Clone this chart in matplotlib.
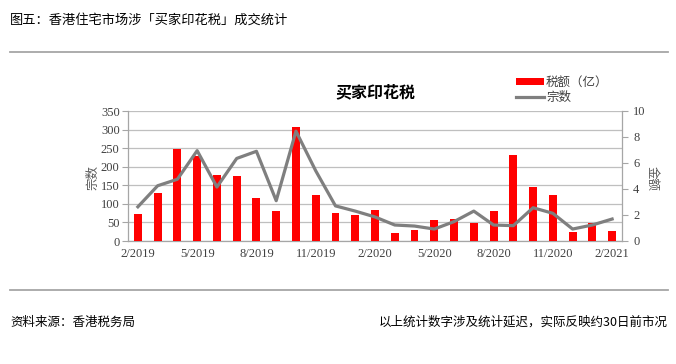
import matplotlib
matplotlib.use("Agg")
import matplotlib.pyplot as plt
from matplotlib.lines import Line2D
from matplotlib.patches import Patch
import numpy as np

plt.rcParams['font.family'] = ['Noto Sans CJK SC', 'DejaVu Sans']

months = ["2/2019", "3/2019", "4/2019", "5/2019", "6/2019", "7/2019", "8/2019", "9/2019",
          "10/2019", "11/2019", "12/2019", "1/2020", "2/2020", "3/2020", "4/2020", "5/2020",
          "6/2020", "7/2020", "8/2020", "9/2020", "10/2020", "11/2020", "12/2020", "1/2021", "2/2021"]
bar_values = [74, 130, 248, 228, 179, 175, 116, 80, 308, 125, 76, 71,
              83, 22, 30, 57, 59, 49, 81, 231, 145, 125, 24, 49, 28]
line_values = [2.63, 4.25, 4.75, 6.95, 4.15, 6.35, 6.9, 3.1, 8.45, 5.4, 2.7, 2.3,
               1.85, 1.23, 1.15, 0.92, 1.49, 2.3, 1.23, 1.18, 2.56, 2.13, 0.92, 1.23, 1.69]
tick_every = 3

title_main = "图五：香港住宅市场涉「买家印花税」成交统计"
chart_title = "买家印花税"
legend_bar = "税额（亿）"
legend_line = "宗数"
left_label = "宗数"
right_label = "金额"
footer_left = "资料来源：香港税务局"
footer_right = "以上统计数字涉及统计延迟，实际反映约30日前市况"

W, H = 676, 364
fig = plt.figure(figsize=(W / 100, H / 100), dpi=100)

def fx(px):
    return px / W

def fy(py):
    return 1 - py / H

ax = fig.add_axes([fx(128), fy(241), fx(622) - fx(128), fy(111) - fy(241)])
x = np.arange(len(months))
ax.bar(x, bar_values, width=0.4, color="#ff0000", zorder=3)
ax.set_xlim(-0.5, len(months) - 0.5)
ax.set_ylim(0, 350)
ax.set_yticks(np.arange(0, 351, 50))
ax.grid(axis='y', color="#bfbfbf", linewidth=0.9, zorder=0)
ax.set_axisbelow(True)
ax.set_xticks(x[::tick_every])
ax.set_xticklabels(months[::tick_every])
for s in ["top", "right"]:
    ax.spines[s].set_visible(False)
for s in ["left", "bottom"]:
    ax.spines[s].set_color("#a6a6a6")
    ax.spines[s].set_linewidth(0.9)
ax.tick_params(axis='y', length=4, color="#a6a6a6", labelsize=9, pad=2, labelcolor="#404040")
ax.tick_params(axis='x', length=0, labelsize=9, pad=5, labelcolor="#404040")
for lab in ax.get_xticklabels() + ax.get_yticklabels():
    lab.set_fontfamily(['Liberation Serif', 'DejaVu Serif'])

ax2 = ax.twinx()
ax2.plot(x, line_values, color="#7f7f7f", linewidth=2.3, zorder=4)
ax2.set_ylim(0, 10)
ax2.set_yticks(np.arange(0, 11, 2))
for s in ["top", "left", "bottom"]:
    ax2.spines[s].set_visible(False)
ax2.spines["right"].set_color("#a6a6a6")
ax2.spines["right"].set_linewidth(0.9)
ax2.tick_params(axis='y', length=4, color="#a6a6a6", labelsize=9, pad=4, labelcolor="#404040")
for lab in ax2.get_yticklabels():
    lab.set_fontfamily(['Liberation Serif', 'DejaVu Serif'])

fig.text(fx(93), fy(177), left_label, rotation=90, ha='center', va='center',
         fontsize=9, color="#595959")
fig.text(fx(652), fy(178), right_label, rotation=-90, ha='center', va='center',
         fontsize=9, color="#595959")

fig.text(fx(375), fy(92), chart_title, ha='center', va='center', fontsize=11.5,
         fontweight='bold', color="#000000")

handles = [Patch(facecolor="#ff0000", edgecolor="none"),
           Line2D([0], [0], color="#7f7f7f", linewidth=2.3)]
fig.legend(handles, [legend_bar, legend_line], loc='center left',
           bbox_to_anchor=(fx(516), fy(90)), frameon=False, fontsize=9,
           handlelength=2.2, handleheight=0.45, handletextpad=0.2, labelspacing=0.15,
           borderpad=0, borderaxespad=0, labelcolor="#404040")

fig.text(fx(10), fy(20), title_main, ha='left', va='center', fontsize=9.5, color="#000000")
fig.add_artist(Line2D([fx(10), fx(668)], [fy(52), fy(52)], color="#a6a6a6", linewidth=1.3))
fig.add_artist(Line2D([fx(10), fx(668)], [fy(290), fy(290)], color="#a6a6a6", linewidth=1.3))
fig.text(fx(10), fy(322), footer_left, ha='left', va='center', fontsize=9,
         color="#000000", style='italic')
fig.text(fx(668), fy(322), footer_right, ha='right', va='center', fontsize=9,
         color="#000000", style='italic')

fig.savefig("out.png", dpi=100)
